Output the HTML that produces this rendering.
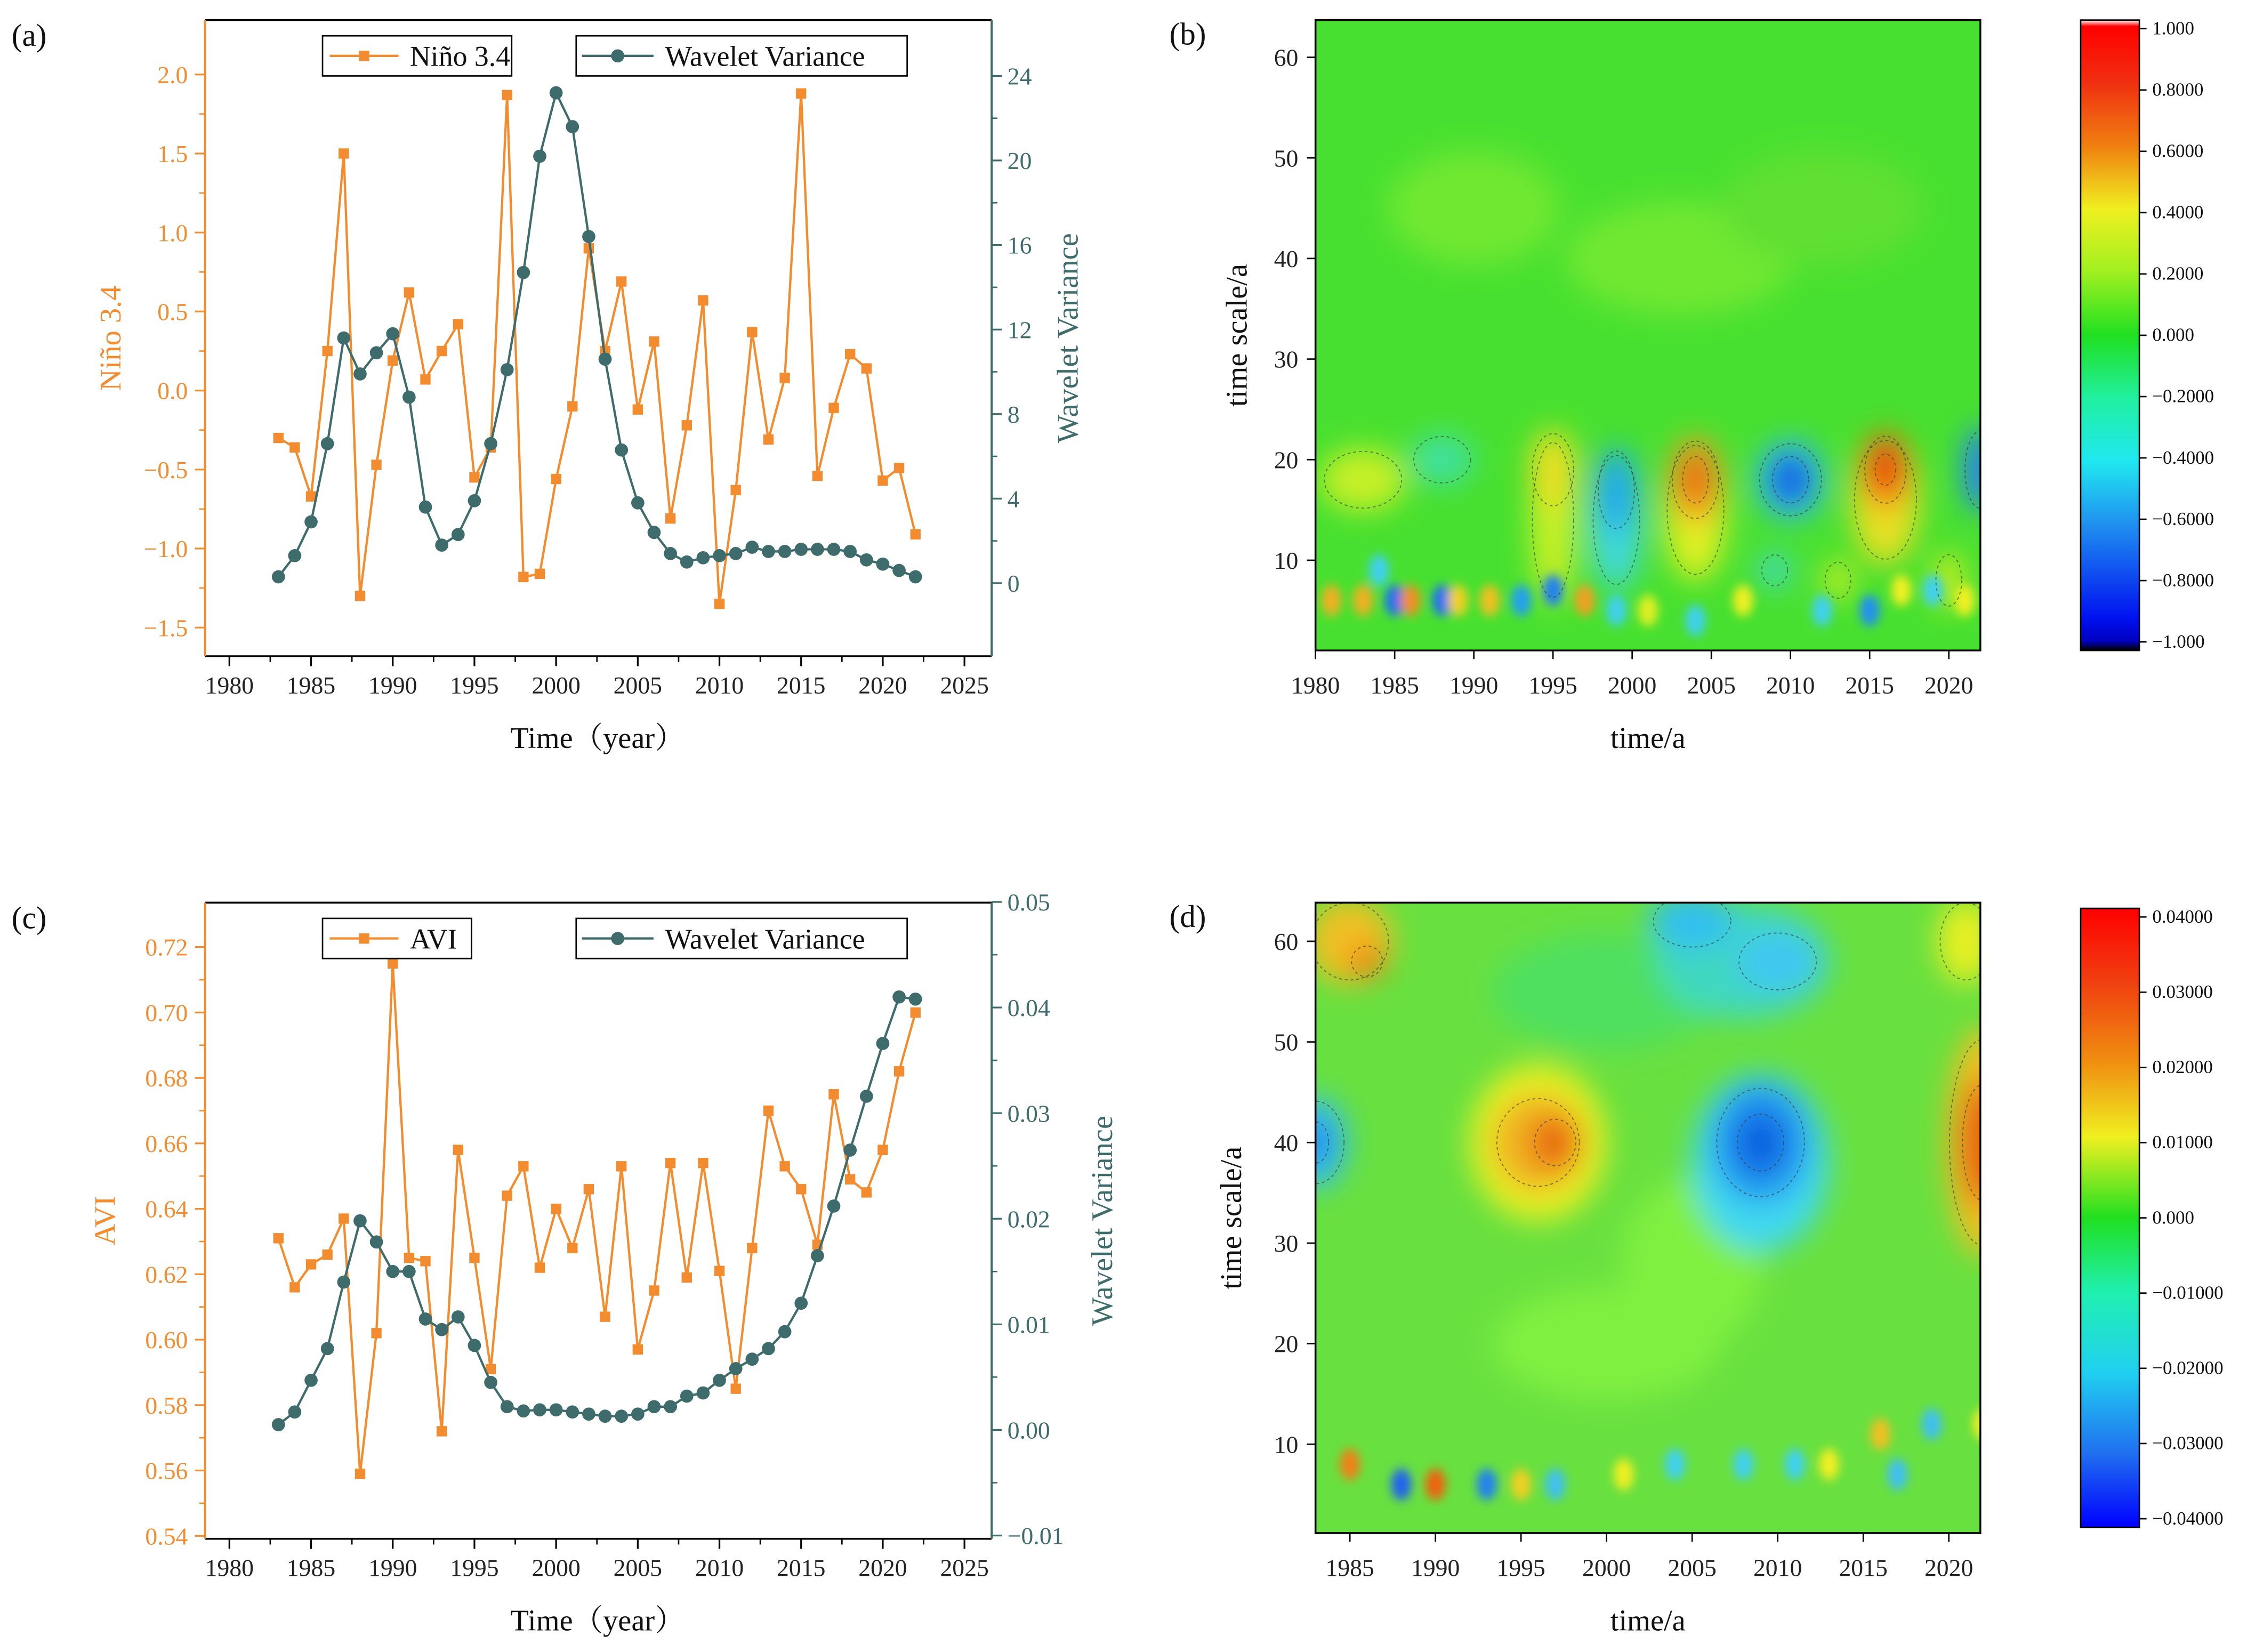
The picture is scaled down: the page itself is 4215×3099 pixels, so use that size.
<!DOCTYPE html>
<html><head><meta charset="utf-8"><style>
html,body{margin:0;padding:0;background:#fff;}
svg{display:block;}
text{font-family:"Liberation Serif","Noto Serif CJK SC",serif;}
</style></head><body>
<svg id="root" xmlns="http://www.w3.org/2000/svg" width="4215" height="3099" viewBox="0 0 1568 1153">
<defs>
<filter id="blur8" x="-50%" y="-50%" width="200%" height="200%"><feGaussianBlur stdDeviation="10"/></filter>
<filter id="blur4" x="-50%" y="-50%" width="200%" height="200%"><feGaussianBlur stdDeviation="3.5"/></filter>
<clipPath id="clipB"><rect x="918" y="14" width="464" height="440"/></clipPath>
<clipPath id="clipD"><rect x="918" y="630" width="464" height="440"/></clipPath>
<linearGradient id="cbB" x1="0" y1="0" x2="0" y2="1">
<stop offset="0" stop-color="#ffffff"/><stop offset="0.01" stop-color="#ff0000"/>
<stop offset="0.1" stop-color="#f03010"/><stop offset="0.2" stop-color="#f08010"/>
<stop offset="0.3" stop-color="#f0f020"/><stop offset="0.4" stop-color="#a0f020"/>
<stop offset="0.5" stop-color="#20e020"/><stop offset="0.6" stop-color="#20f0a0"/>
<stop offset="0.7" stop-color="#20e8f0"/><stop offset="0.8" stop-color="#2090f0"/>
<stop offset="0.95" stop-color="#0010f0"/><stop offset="0.985" stop-color="#0000c0"/><stop offset="1" stop-color="#000000"/>
</linearGradient>
<linearGradient id="cbD" x1="0" y1="0" x2="0" y2="1">
<stop offset="0" stop-color="#ff0000"/><stop offset="0.12" stop-color="#f04010"/>
<stop offset="0.25" stop-color="#f09010"/><stop offset="0.37" stop-color="#f0f020"/>
<stop offset="0.5" stop-color="#20e020"/><stop offset="0.62" stop-color="#20f0b0"/>
<stop offset="0.75" stop-color="#20d0f0"/><stop offset="0.88" stop-color="#2070f0"/>
<stop offset="1" stop-color="#0000ff"/>
</linearGradient>
</defs>
<g id="g"></g>
</svg>
<script>
const years=[];for(let y=1983;y<=2022;y++)years.push(y);
const ninoValues=[-0.3,-0.36,-0.67,0.25,1.5,-1.3,-0.47,0.19,0.62,0.07,0.25,0.42,-0.55,-0.36,1.87,-1.18,-1.16,-0.56,-0.1,0.9,0.25,0.69,-0.12,0.31,-0.81,-0.22,0.57,-1.35,-0.63,0.37,-0.31,0.08,1.88,-0.54,-0.11,0.23,0.14,-0.57,-0.49,-0.91];
const wvNino=[0.3,1.3,2.9,6.6,11.6,9.9,10.9,11.8,8.8,3.6,1.8,2.3,3.9,6.6,10.1,14.7,20.2,23.2,21.6,16.4,10.6,6.3,3.8,2.4,1.4,1.0,1.2,1.3,1.4,1.7,1.5,1.5,1.6,1.6,1.6,1.5,1.1,0.9,0.6,0.3];
const aviValues=[0.631,0.616,0.623,0.626,0.637,0.559,0.602,0.715,0.625,0.624,0.572,0.658,0.625,0.591,0.644,0.653,0.622,0.64,0.628,0.646,0.607,0.653,0.597,0.615,0.654,0.619,0.654,0.621,0.585,0.628,0.67,0.653,0.646,0.629,0.675,0.649,0.645,0.658,0.682,0.70];
const wvAvi=[0.0005,0.0017,0.0047,0.0077,0.014,0.0198,0.0178,0.015,0.015,0.0105,0.0095,0.0107,0.008,0.0045,0.0022,0.0018,0.0019,0.0019,0.0017,0.0015,0.0013,0.0013,0.0015,0.0022,0.0022,0.0032,0.0035,0.0047,0.0058,0.0067,0.0077,0.0093,0.012,0.0165,0.0212,0.0265,0.0316,0.0366,0.041,0.0408];
const xTicks=[1980,1985,1990,1995,2000,2005,2010,2015,2020,2025];
const ninoTicks=[-1.5,-1.0,-0.5,0.0,0.5,1.0,1.5,2.0];
const wvNinoTicks=[0,4,8,12,16,20,24];
const aviTicks=[0.54,0.56,0.58,0.60,0.62,0.64,0.66,0.68,0.70,0.72];
const wvAviTicks=[-0.01,0.00,0.01,0.02,0.03,0.04,0.05];
const cbBLabels=["1.000","0.8000","0.6000","0.4000","0.2000","0.000","\u22120.2000","\u22120.4000","\u22120.6000","\u22120.8000","\u22121.000"];
const cbDLabels=["0.04000","0.03000","0.02000","0.01000","0.000","\u22120.01000","\u22120.02000","\u22120.03000","\u22120.04000"];
// blobs: [year, scale, rx, ry, color]
const blobsB=[[1990,45,60,40,"#70e830"],[2003,40,80,40,"#70e830"],[2012,45,70,40,"#60e030"],
[1983,18,30,22,"#c8f028"],[1988,20,22,18,"#40e0a0"],[1995,14,16,60,"#c8f028"],[1995,19,16,28,"#f0e020"],
[1999,14,18,50,"#40d8e0"],[1999,17,14,30,"#20a8f0"],
[2004,15,22,50,"#e0f020"],[2004,18,18,30,"#f0a020"],[2004,18,10,18,"#e86010"],
[2010,18,24,28,"#30c0f0"],[2010,18,14,18,"#1050e0"],
[2016,16,24,46,"#e8e020"],[2016,19,16,26,"#f06010"],[2016,19,8,12,"#e81010"],
[2022,19,12,30,"#2080f0"],[2020,8,10,20,"#d8f020"],[2009,9,10,12,"#40d8e0"],[2013,8,10,14,"#d0f020"]];
const smallB=[[1981,6,"#f0b020"],[1983,6,"#f0b020"],[1985,6,"#2070f0"],[1986,6,"#f09020"],[1988,6,"#2070f0"],[1989,6,"#f0d020"],[1991,6,"#f0c020"],[1993,6,"#20a0f0"],[1995,7,"#2080f0"],[1997,6,"#f0a020"],[1999,5,"#40d0f0"],[2001,5,"#e0f020"],[2004,4,"#40d0f0"],[2007,6,"#f0f020"],[2012,5,"#40d0f0"],[2015,5,"#2090f0"],[2017,7,"#f0f020"],[2019,7,"#40d0f0"],[2021,6,"#f0f020"],[1984,9,"#40d0f0"]];
const blobsD=[[2000,55,80,40,"#50e060"],[2008,58,60,40,"#40d8c0"],[2005,62,30,20,"#30c0f0"],[2010,58,30,22,"#40c8f0"],
[2005,28,50,60,"#80f040"],[2000,20,80,40,"#80f040"],
[1996,40,48,55,"#e8f020"],[1996,40,32,34,"#f0b020"],[1997,40,16,18,"#e86010"],
[2009,38,48,62,"#40d8f0"],[2009,40,34,42,"#2098f0"],[2009,40,18,22,"#1060e0"],
[2022,40,26,80,"#f0c020"],[2022,40,16,45,"#e86010"],[1983,40,22,32,"#30c0f0"],[1983,40,10,16,"#2080f0"],
[1985,60,30,30,"#f0c020"],[1986,58,12,12,"#f08018"],[2021,60,20,30,"#e8f020"]];
const smallD=[[1985,8,"#f08018"],[1988,6,"#2060f0"],[1990,6,"#f06010"],[1993,6,"#2080f0"],[1995,6,"#f0d020"],[1997,6,"#40c0f0"],[2001,7,"#f0f020"],[2004,8,"#40d0f0"],[2008,8,"#40d0f0"],[2011,8,"#40d0f0"],[2013,8,"#f0f020"],[2016,11,"#f0c020"],[2017,7,"#40c0f0"],[2019,12,"#40c0f0"],[2022,12,"#f0f020"]];

const NS="http://www.w3.org/2000/svg";
const G=document.getElementById('g');
function el(t,a,p){const e=document.createElementNS(NS,t);for(const k in a)e.setAttribute(k,a[k]);(p||G).appendChild(e);return e;}
function tx(s,x,y,a,p){const e=el('text',a,p);e.setAttribute('x',x);e.setAttribute('y',y);e.textContent=s;return e;}
const OR="#f28c2e", TL="#3e6b6b";

function linePanel(o){
 const L=143,R=692,T=o.top,B=o.top+444;
 const g=el('g',{});
 
 
 const X=v=>160+(v-1980)*(513/45);
 const YL=v=>o.yl0+(v-o.l0)*o.lk;
 const YR=v=>o.yr0+(v-o.r0)*o.rk;
 el('line',{x1:L,y1:T,x2:R,y2:T,stroke:"#000","stroke-width":1.3},g);
 el('line',{x1:L,y1:B,x2:R,y2:B,stroke:"#000","stroke-width":1.3},g);
 el('line',{x1:L,y1:T,x2:L,y2:B,stroke:OR,"stroke-width":1.5},g);
 el('line',{x1:R,y1:T,x2:R,y2:B,stroke:TL,"stroke-width":1.5},g);
 xTicks.forEach((v,i)=>{const x=X(v);el('line',{x1:x,y1:B,x2:x,y2:B+7,stroke:"#000","stroke-width":1.2},g);
  if(i<xTicks.length-1){const xm=X(v+2.5);el('line',{x1:xm,y1:B,x2:xm,y2:B+4,stroke:"#000","stroke-width":1},g);}
  const t=tx(String(v),x,B+26,{"font-size":17,"text-anchor":"middle",fill:"#222"},g);});
 o.lt.forEach((v,i)=>{const y=YL(v);el('line',{x1:L-7,y1:y,x2:L,y2:y,stroke:OR,"stroke-width":1.2},g);
  if(i<o.lt.length-1){const ym=YL(v+o.lstep/2);el('line',{x1:L-4,y1:ym,x2:L,y2:ym,stroke:OR,"stroke-width":1},g);}
  const t=tx(o.lf(v),L-12,y+6,{"font-size":17,"text-anchor":"end",fill:OR},g);});
 o.rt.forEach((v,i)=>{const y=YR(v);el('line',{x1:R,y1:y,x2:R+7,y2:y,stroke:TL,"stroke-width":1.2},g);
  if(i<o.rt.length-1){const ym=YR(v+o.rstep/2);el('line',{x1:R,y1:ym,x2:R+4,y2:ym,stroke:TL,"stroke-width":1},g);}
  const t=tx(o.rf(v),R+11,y+6,{"font-size":17,fill:TL},g);});
 let t=tx("Time（year）",417,T+508,{"font-size":21,"text-anchor":"middle",fill:"#111"},g);
 t=tx(o.ll,0,0,{"font-size":21,"text-anchor":"middle",fill:OR,transform:`translate(${o.llx},${(T+B)/2}) rotate(-90)`},g);
 t=tx("Wavelet Variance",0,0,{"font-size":21,"text-anchor":"middle",fill:TL,transform:`translate(${o.rlx},${(T+B)/2}) rotate(-90)`},g);
 const p1=el('polyline',{points:years.map((y,i)=>X(y)+","+YL(o.s1[i])).join(" "),fill:"none",stroke:OR,"stroke-width":1.6},g);
 
 years.forEach((y,i)=>{const r=el('rect',{x:X(y)-3.6,y:YL(o.s1[i])-3.6,width:7.2,height:7.2,fill:OR},g);
  });
 const p2=el('polyline',{points:years.map((y,i)=>X(y)+","+YR(o.s2[i])).join(" "),fill:"none",stroke:TL,"stroke-width":1.6},g);
 
 years.forEach((y,i)=>{const c=el('circle',{cx:X(y),cy:YR(o.s2[i]),r:4.6,fill:TL},g);
  });
 const lg1=el('g',{},g);
 el('rect',{x:225,y:T+11,width:o.lw,height:28,fill:"#fff",stroke:"#000","stroke-width":1},lg1);
 el('line',{x1:230,y1:T+25,x2:278,y2:T+25,stroke:OR,"stroke-width":1.6},lg1);
 el('rect',{x:250.4,y:T+21.4,width:7.2,height:7.2,fill:OR},lg1);
 tx(o.s1label,286,T+32,{"font-size":20,fill:"#111"},lg1);
 const lg2=el('g',{},g);
 el('rect',{x:402,y:T+11,width:231,height:28,fill:"#fff",stroke:"#000","stroke-width":1},lg2);
 el('line',{x1:406,y1:T+25,x2:456,y2:T+25,stroke:TL,"stroke-width":1.6},lg2);
 el('circle',{cx:431,cy:T+25,r:4.6,fill:TL},lg2);
 tx("Wavelet Variance",464,T+32,{"font-size":20,fill:"#111"},lg2);
 t=tx(o.tag,8,T+18,{"font-size":22,fill:"#111"},g);
}
linePanel({name:'panel-a-nino-chart',top:14,yl0:438,l0:-1.5,lk:-(386/3.5),yr0:407,r0:0,rk:-(354/24),
 lt:ninoTicks,lstep:0.5,lf:v=>(v<0?"\u2212":"")+Math.abs(v).toFixed(1),rt:wvNinoTicks,rstep:4,rf:v=>String(v),
 s1:ninoValues,s2:wvNino,s1name:'nino34',s1label:'Niño 3.4',lw:132,ll:'Niño 3.4',llx:84,rlx:752,tag:'(a)'});
linePanel({name:'panel-c-avi-chart',top:630,yl0:1072,l0:0.54,lk:-(411/0.18),yr0:998,r0:0,rk:-(73.7/0.01),
 lt:aviTicks,lstep:0.02,lf:v=>v.toFixed(2),rt:wvAviTicks,rstep:0.01,rf:v=>(v<0?"\u2212":"")+Math.abs(v).toFixed(2),
 s1:aviValues,s2:wvAvi,s1name:'avi',s1label:'AVI',lw:104,ll:'AVI',llx:80,rlx:776,tag:'(c)'});

function mapPanel(o){
 const L=918,R=1382,T=o.top,B=o.top+440;
 const g=el('g',{});
 const X=v=>o.x0+(v-o.y0yr)*o.xk;
 const Y=v=>o.ys0+(v-10)*(-7.02);
 const cg=el('g',{'clip-path':`url(#${o.clip})`},g);
 el('rect',{x:L,y:T,width:464,height:440,fill:o.bg},cg);
 const bg=el('g',{filter:"url(#blur8)"},cg);
 o.blobs.forEach(b=>{const e=el('ellipse',{cx:X(b[0]),cy:Y(b[1]),rx:b[2],ry:b[3],fill:b[4]},bg);
  });
 const sg=el('g',{filter:"url(#blur4)"},cg);
 o.small.forEach(b=>{const e=el('ellipse',{cx:X(b[0]),cy:Y(b[1]),rx:7,ry:11,fill:b[2]},sg);
  });
 o.blobs.forEach(b=>{if(b[2]<40)el('ellipse',{cx:X(b[0]),cy:Y(b[1]),rx:b[2]*0.9,ry:b[3]*0.9,fill:"none",stroke:"#333","stroke-width":0.7,"stroke-dasharray":"2 2",opacity:0.6},cg);});
 el('rect',{x:L,y:T,width:464,height:440,fill:"none",stroke:"#000","stroke-width":1.3},g);
 o.xt.forEach(v=>{const x=X(v);el('line',{x1:x,y1:B,x2:x,y2:B+6,stroke:"#000"},g);
  const t=tx(String(v),x,B+30,{"font-size":17,"text-anchor":"middle",fill:"#222"},g);});
 [10,20,30,40,50,60].forEach(v=>{const y=Y(v);el('line',{x1:L-6,y1:y,x2:L,y2:y,stroke:"#000"},g);
  const t=tx(String(v),L-12,y+6,{"font-size":17,"text-anchor":"end",fill:"#222"},g);});
 let t=tx("time/a",1150,B+68,{"font-size":21,"text-anchor":"middle",fill:"#111"},g);
 t=tx("time scale/a",0,0,{"font-size":21,"text-anchor":"middle",fill:"#111",transform:`translate(${o.ylx},${(T+B)/2}) rotate(-90)`},g);
 t=tx(o.tag,816,T+17,{"font-size":22,fill:"#111"},g);
 const cb=el('rect',{x:1452,y:o.cbT,width:41,height:o.cbB-o.cbT,fill:`url(#${o.cbg})`,stroke:"#000","stroke-width":1},g);
 
 const n=o.cbl.length;
 o.cbl.forEach((s,i)=>{const y=o.cbT+6+i*(o.cbB-o.cbT-12)/(n-1);
  el('line',{x1:1493,y1:y,x2:1498,y2:y,stroke:"#000"},g);
  const t=tx(s,1502,y+4,{"font-size":13,fill:"#111"},g);});
}
mapPanel({name:'panel-b-wavelet-map',top:14,x0:918,y0yr:1980,xk:442/40,ys0:391,clip:'clipB',bg:"#48e030",blobs:blobsB,small:smallB,
 xt:[1980,1985,1990,1995,2000,2005,2010,2015,2020],ylx:870,tag:'(b)',cbT:14,cbB:454,cbg:'cbB',cbl:cbBLabels});
mapPanel({name:'panel-d-wavelet-map',top:630,x0:942,y0yr:1985,xk:418/35,ys0:1008,clip:'clipD',bg:"#68e040",blobs:blobsD,small:smallD,
 xt:[1985,1990,1995,2000,2005,2010,2015,2020],ylx:866,tag:'(d)',cbT:634,cbB:1066,cbg:'cbD',cbl:cbDLabels});
</script>
</body></html>
